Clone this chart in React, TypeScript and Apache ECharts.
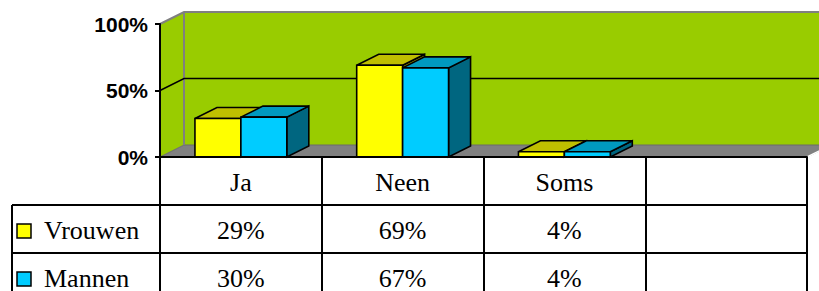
import React, { useEffect, useRef } from "react";
import * as echarts from "echarts";

const categories = ["Ja", "Neen", "Soms", ""];
const seriesNames = ["Vrouwen", "Mannen"];
const vrouwen: (number | null)[] = [29, 69, 4, null];
const mannen: (number | null)[] = [30, 67, 4, null];
const yMin = 0;
const yMax = 100;
const yInterval = 50;

const frontColors = ["#FFFF00", "#00CCFF"];
const topColors = ["#BFBF00", "#0099BF"];
const sideColors = ["#8F8F00", "#006680"];

const W = 819;
const H = 291;
const GRID_LEFT = 160;
const GRID_RIGHT = 12;
const GRID_TOP = 24;
const GRID_BOTTOM = 134;
const WALL_DX = 24;
const WALL_DY = 12;
const BAR_DX = 22;
const BAR_DY = 11;
const BAR_FRAC = 46 / 162;
const ROW_H = 48;
const TABLE_LEFT = 12;
const SERIF = "Liberation Serif";
const SANS = "Liberation Sans";
const TABLE_FONT = 26;

const stroke = { stroke: "#000", lineWidth: 1.6, lineJoin: "miter" as const };

function barRenderer(s: number) {
  return (params: any, api: any) => {
    const i = api.value(0);
    const v = api.value(1);
    const top = api.coord([i, v]);
    const base = api.coord([i, 0]);
    const band = api.size([1, 0])[0];
    const w = band * BAR_FRAC;
    const x0 = top[0] - w + s * w;
    const y1 = top[1];
    const y0 = base[1];
    return {
      type: "group",
      children: [
        {
          type: "polygon",
          shape: {
            points: [
              [x0 + w, y1],
              [x0 + w + BAR_DX, y1 - BAR_DY],
              [x0 + w + BAR_DX, y0 - BAR_DY],
              [x0 + w, y0],
            ],
          },
          style: { fill: sideColors[s], ...stroke },
        },
        {
          type: "polygon",
          shape: {
            points: [
              [x0, y1],
              [x0 + w, y1],
              [x0 + w + BAR_DX, y1 - BAR_DY],
              [x0 + BAR_DX, y1 - BAR_DY],
            ],
          },
          style: { fill: topColors[s], ...stroke },
        },
        {
          type: "rect",
          shape: { x: x0, y: y1, width: w, height: y0 - y1 },
          style: { fill: frontColors[s], ...stroke },
        },
      ],
    };
  };
}

function wallsRenderer(params: any, api: any) {
  const cs = params.coordSys;
  const x0 = cs.x;
  const x1 = cs.x + cs.width;
  const yTop = api.coord([0, yMax])[1];
  const yBot = api.coord([0, yMin])[1];
  const children: any[] = [
    {
      type: "rect",
      shape: { x: x0 + WALL_DX, y: yTop - WALL_DY, width: x1 - x0, height: yBot - yTop },
      style: { fill: "#99CC00" },
    },
    {
      type: "polygon",
      shape: {
        points: [
          [x0, yTop],
          [x0 + WALL_DX, yTop - WALL_DY],
          [x0 + WALL_DX, yBot - WALL_DY],
          [x0, yBot],
        ],
      },
      style: { fill: "#99CC00" },
    },
    {
      type: "polygon",
      shape: {
        points: [
          [x0, yBot],
          [x1, yBot],
          [x1 + WALL_DX, yBot - WALL_DY],
          [x0 + WALL_DX, yBot - WALL_DY],
        ],
      },
      style: { fill: "#808080", stroke: "#6a6a6a", lineWidth: 1 },
    },
    {
      type: "polyline",
      shape: {
        points: [
          [x0, yTop],
          [x0 + WALL_DX, yTop - WALL_DY],
          [x1 + WALL_DX, yTop - WALL_DY],
        ],
      },
      style: { stroke: "#808080", lineWidth: 2, fill: null },
    },
    {
      type: "line",
      shape: { x1: x0 + WALL_DX, y1: yTop - WALL_DY, x2: x0 + WALL_DX, y2: yBot - WALL_DY },
      style: { stroke: "#808080", lineWidth: 2 },
    },
    {
      type: "line",
      shape: { x1: x1, y1: yBot, x2: x1 + WALL_DX, y2: yBot - WALL_DY },
      style: { stroke: "#FFFFFF", lineWidth: 1.5 },
    },
  ];
  for (let v = yMin + yInterval; v < yMax; v += yInterval) {
    const y = api.coord([0, v])[1];
    children.push({
      type: "polyline",
      shape: {
        points: [
          [x0, y],
          [x0 + WALL_DX, y - WALL_DY],
          [x1 + WALL_DX, y - WALL_DY],
        ],
      },
      style: { stroke: "#000", lineWidth: 1.5, fill: null },
    });
  }
  return { type: "group", children };
}

function tableRenderer(row: number) {
  return (params: any, api: any) => {
    const i = api.value(0);
    const v = api.value(1);
    const x = api.coord([i, 0])[0];
    const yBase = api.coord([i, yMin])[1];
    return {
      type: "text",
      x,
      y: yBase + ROW_H * (row + 1) + 25,
      style: {
        text: v + "%",
        fontSize: TABLE_FONT,
        fontFamily: SERIF,
        fill: "#000",
        align: "center",
        verticalAlign: "middle",
      },
    };
  };
}

export default function App() {
  const ref = useRef<HTMLDivElement>(null);
  useEffect(() => {
    if (!ref.current) return;
    const chart = echarts.init(ref.current, null, { renderer: "svg" });
    const allValues = [vrouwen, mannen];
    const toData = (arr: (number | null)[]) =>
      arr.map((v, i) => [i, v]).filter((d) => d[1] != null);

    const axisBottom = H - GRID_BOTTOM;
    const graphic: any[] = [];
    for (let r = 0; r < allValues.length; r++) {
      const top = axisBottom + ROW_H * (r + 1);
      graphic.push({
        type: "line",
        shape: { x1: TABLE_LEFT, y1: top, x2: W - GRID_RIGHT, y2: top },
        style: { stroke: "#000", lineWidth: 2 },
        z: 10,
      });
      graphic.push({
        type: "rect",
        shape: { x: 17, y: top + 19, width: 14, height: 14 },
        style: { fill: frontColors[r], stroke: "#000", lineWidth: 1.5 },
        z: 10,
      });
      graphic.push({
        type: "text",
        x: 44,
        y: top + 25,
        style: {
          text: seriesNames[r],
          fontSize: TABLE_FONT,
          fontFamily: SERIF,
          fill: "#000",
          align: "left",
          verticalAlign: "middle",
        },
        z: 10,
      });
    }
    graphic.push({
      type: "line",
      shape: { x1: TABLE_LEFT, y1: axisBottom + ROW_H, x2: TABLE_LEFT, y2: H + 10 },
      style: { stroke: "#000", lineWidth: 2 },
      z: 10,
    });

    chart.setOption({
      animation: false,
      grid: { left: GRID_LEFT, right: GRID_RIGHT, top: GRID_TOP, bottom: GRID_BOTTOM, show: false },
      xAxis: {
        type: "category",
        data: categories,
        z: 5,
        axisLine: { show: true, lineStyle: { color: "#000", width: 2 } },
        axisTick: { show: true, length: GRID_BOTTOM + 10, interval: 0, lineStyle: { color: "#000", width: 2 } },
        axisLabel: {
          interval: 0,
          margin: 25,
          fontSize: TABLE_FONT,
          fontFamily: SERIF,
          color: "#000",
          verticalAlign: "middle",
        },
        splitLine: { show: false },
      },
      yAxis: {
        type: "value",
        min: yMin,
        max: yMax,
        interval: yInterval,
        z: 5,
        axisLine: { show: true, lineStyle: { color: "#000", width: 2 } },
        axisTick: { show: true, length: 5, lineStyle: { color: "#000", width: 2 } },
        axisLabel: {
          formatter: "{value}%",
          margin: 12,
          fontSize: 21,
          fontWeight: "bold",
          fontFamily: SANS,
          color: "#000",
        },
        splitLine: { show: false },
      },
      graphic,
      series: [
        {
          type: "custom",
          name: "walls",
          data: [[0, 0]],
          renderItem: wallsRenderer,
          clip: false,
          silent: true,
          z: 1,
        },
        ...allValues.map((arr, s) => ({
          type: "custom",
          name: seriesNames[s],
          data: toData(arr),
          renderItem: barRenderer(s),
          clip: false,
          silent: true,
          z: 3,
        })),
        ...allValues.map((arr, s) => ({
          type: "custom",
          name: seriesNames[s] + " table",
          data: toData(arr),
          renderItem: tableRenderer(s),
          clip: false,
          silent: true,
          z: 6,
        })),
      ],
    });
    return () => chart.dispose();
  }, []);
  return (
    <div
      ref={ref}
      style={{ position: "absolute", left: 0, top: 0, width: W, height: H, background: "#fff" }}
    />
  );
}
